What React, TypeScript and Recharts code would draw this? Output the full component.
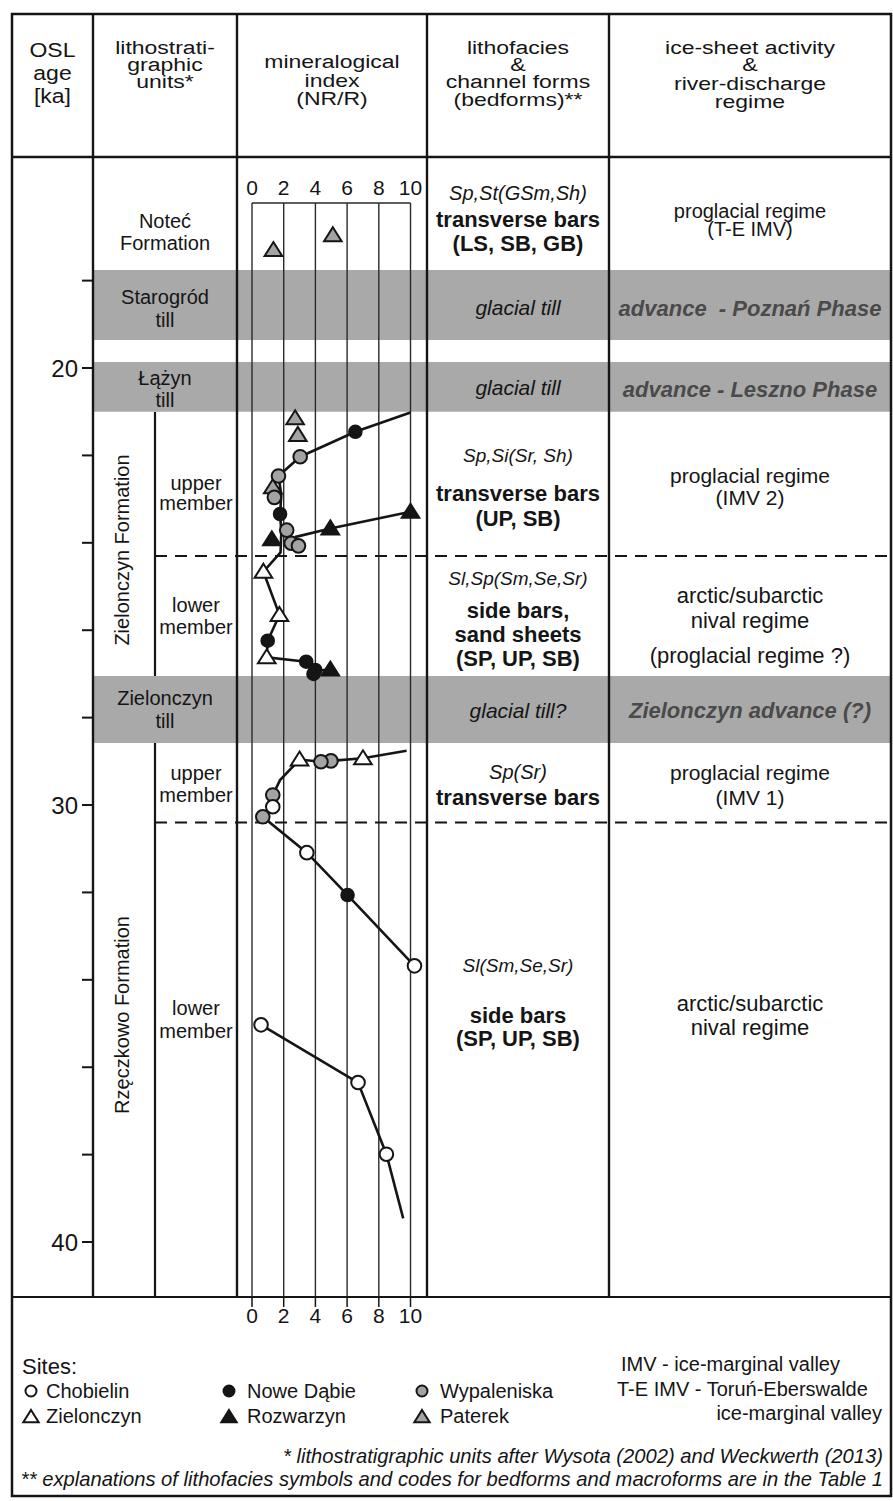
import React from 'react';
import { ScatterChart, Scatter, XAxis, YAxis, ReferenceArea, ReferenceLine } from 'recharts';

type P = { x: number; y: number };

// mineralogical index axis
const mineralTicks = [0, 2, 4, 6, 8, 10];
// OSL age axis (ka)
const ageTicks = [18, 20, 22, 24, 26, 28, 30, 32, 34, 36, 38, 40];
const ageLabels = [20, 30, 40];

// sites (x = mineralogical index NR/R, y = OSL age ka)
const chobielin: P[] = [
  { x: 1.31, y: 30.04 }, { x: 3.46, y: 31.09 }, { x: 10.25, y: 33.68 },
  { x: 0.57, y: 35.03 }, { x: 6.69, y: 36.35 }, { x: 8.48, y: 37.99 },
];
const noweDabie: P[] = [
  { x: 6.52, y: 21.46 }, { x: 1.77, y: 23.34 }, { x: 0.99, y: 26.24 },
  { x: 3.42, y: 26.72 }, { x: 3.99, y: 26.91 }, { x: 3.88, y: 27.0 }, { x: 6.03, y: 32.06 },
];
const wypaleniska: P[] = [
  { x: 3.04, y: 22.03 }, { x: 1.67, y: 22.47 }, { x: 1.41, y: 22.96 }, { x: 2.19, y: 23.71 },
  { x: 2.47, y: 24.01 }, { x: 2.93, y: 24.07 }, { x: 4.98, y: 28.99 }, { x: 4.35, y: 29.01 },
  { x: 1.31, y: 29.77 }, { x: 0.68, y: 30.27 },
];
const zielonczyn: P[] = [
  { x: 0.72, y: 24.66 }, { x: 1.73, y: 25.65 }, { x: 0.93, y: 26.62 },
  { x: 7.0, y: 28.93 }, { x: 3.0, y: 28.96 },
];
const rozwarzyn: P[] = [
  { x: 10.0, y: 23.29 }, { x: 4.94, y: 23.67 }, { x: 1.25, y: 23.92 }, { x: 4.94, y: 26.9 },
];
const paterek: P[] = [
  { x: 5.1, y: 16.96 }, { x: 1.35, y: 17.3 }, { x: 2.72, y: 21.15 }, { x: 2.89, y: 21.53 }, { x: 1.31, y: 22.73 },
];

// trend lines
const lineZielonczynFm: P[] = [
  { x: 10.0, y: 21.02 }, { x: 6.52, y: 21.46 }, { x: 3.04, y: 22.03 }, { x: 1.67, y: 22.47 },
  { x: 1.85, y: 22.9 }, { x: 1.77, y: 23.34 }, { x: 1.85, y: 23.75 }, { x: 1.8, y: 24.22 },
  { x: 0.72, y: 24.66 }, { x: 1.73, y: 25.65 }, { x: 0.99, y: 26.24 }, { x: 0.93, y: 26.62 },
  { x: 3.42, y: 26.72 }, { x: 3.95, y: 26.93 }, { x: 4.94, y: 26.9 },
];
const lineRozwarzyn: P[] = [
  { x: 10.0, y: 23.29 }, { x: 4.94, y: 23.67 }, { x: 2.7, y: 23.87 },
];
const lineRzeczkowoUpper: P[] = [
  { x: 9.75, y: 28.76 }, { x: 7.0, y: 28.93 }, { x: 4.98, y: 28.99 }, { x: 4.35, y: 29.01 },
  { x: 3.0, y: 28.96 }, { x: 1.77, y: 29.43 }, { x: 1.31, y: 29.77 }, { x: 1.31, y: 30.04 },
  { x: 0.68, y: 30.27 }, { x: 3.46, y: 31.09 }, { x: 6.03, y: 32.06 }, { x: 10.25, y: 33.68 },
];
const lineRzeczkowoLower: P[] = [
  { x: 0.57, y: 35.03 }, { x: 6.69, y: 36.35 }, { x: 8.48, y: 37.99 }, { x: 9.54, y: 39.46 },
];

// tills (ka)
const tillTops = [17.76, 19.86, 27.05];
const tillBottoms = [19.36, 21.0, 28.58];
// member boundaries (ka)
const memberBoundaries = [24.3, 30.4];

const X_DOMAIN: [number, number] = [-10.032, 40.315];
const Y_DOMAIN: [number, number] = [16.224, 41.258];
const FONT = "'Liberation Sans', Arial, Helvetica, sans-serif";
const INK = '#151515';
const BAND = '#a9a9a9';
const GREYFILL = '#a3a3a3';

const circleShape = (fill: string, r = 6.8) => (props: any) => (
  <circle cx={props.cx} cy={props.cy} r={r} fill={fill} stroke={INK} strokeWidth={2} />
);
const triPoints = (cx: number, cy: number, s: number) =>
  `${cx},${cy - s} ${cx + s * 1.1},${cy + s * 0.75} ${cx - s * 1.1},${cy + s * 0.75}`;
const triShape = (fill: string, s = 8) => (props: any) => (
  <polygon points={triPoints(props.cx, props.cy, s)} fill={fill} stroke={INK} strokeWidth={2} strokeLinejoin="miter" />
);
const noShape = () => <g />;

type TP = {
  x: number; y: number; children: React.ReactNode; size?: number; bold?: boolean; italic?: boolean;
  anchor?: 'start' | 'middle' | 'end'; fill?: string; rotate?: number; sy?: number;
};
const T = ({ x, y, children, size = 21, bold, italic, anchor = 'middle', fill = INK, rotate, sy }: TP) => {
  let transform: string | undefined;
  if (rotate) transform = `rotate(${rotate} ${x} ${y})`;
  else if (sy) transform = `translate(${x} ${y}) scale(1 ${sy}) translate(${-x} ${-y})`;
  return (
    <text
      x={x}
      y={y}
      fontSize={size}
      fontFamily={FONT}
      fontWeight={bold ? 'bold' : 'normal'}
      fontStyle={italic ? 'italic' : 'normal'}
      textAnchor={anchor}
      dominantBaseline="central"
      fill={fill}
      transform={transform}
      style={{ whiteSpace: 'pre' }}
    >
      {children}
    </text>
  );
};

const LegendCircle = ({ cx, cy, fill }: { cx: number; cy: number; fill: string }) => (
  <circle cx={cx} cy={cy} r={5.5} fill={fill} stroke={INK} strokeWidth={2} />
);
const LegendTri = ({ cx, cy, fill }: { cx: number; cy: number; fill: string }) => (
  <polygon points={triPoints(cx, cy, 7)} fill={fill} stroke={INK} strokeWidth={2} />
);

const HS = 23; // header font size
const HY = 0.82; // header vertical squeeze

export default function App() {
  const L = 12, R = 891, TOP = 14, HEAD = 157, TB = 1297, BOT = 1496;
  const cols = [93, 237, 427, 609];
  return (
    <div style={{ position: 'absolute', left: 0, top: 0, width: 893, height: 1501, background: '#fff' }}>
      <div style={{ position: 'absolute', left: 0, top: 0 }}>
        <ScatterChart width={893} height={1501} margin={{ top: 173, right: 2, bottom: 164, left: 33 }}>
          <XAxis
            xAxisId="b"
            type="number"
            dataKey="x"
            domain={X_DOMAIN}
            allowDataOverflow
            ticks={mineralTicks}
            interval={0}
            height={40}
            axisLine={false}
            tickSize={10}
            tickMargin={1}
            tickLine={{ stroke: INK, strokeWidth: 1.5 }}
            tick={{ fontSize: 21, fill: INK, fontFamily: FONT }}
          />
          <XAxis
            xAxisId="t"
            orientation="top"
            type="number"
            dataKey="x"
            domain={X_DOMAIN}
            allowDataOverflow
            ticks={mineralTicks}
            interval={0}
            height={30}
            axisLine={false}
            tickLine={false}
            tickSize={6}
            tickMargin={2}
            tick={{ fontSize: 21, fill: INK, fontFamily: FONT }}
          />
          <YAxis
            type="number"
            dataKey="y"
            domain={Y_DOMAIN}
            allowDataOverflow
            reversed
            ticks={ageTicks}
            interval={0}
            width={60}
            axisLine={false}
            tickSize={11}
            tickMargin={4}
            tickLine={{ stroke: INK, strokeWidth: 2 }}
            tickFormatter={(v: number) => (ageLabels.includes(v) ? String(v) : '')}
            tick={{ fontSize: 24, fill: INK, fontFamily: FONT }}
          />
          {tillTops.map((t, i) => (
            <ReferenceArea key={'till' + i} xAxisId="b" y1={t} y2={tillBottoms[i]} fill={BAND} fillOpacity={1} stroke="none" ifOverflow="visible" />
          ))}
          {mineralTicks.map((v) => (
            <ReferenceLine key={'g' + v} xAxisId="b" x={v} stroke="#2a2a2a" strokeWidth={1.4} ifOverflow="visible" />
          ))}
          <ReferenceLine
            xAxisId="b"
            segment={[{ x: 0, y: Y_DOMAIN[0] }, { x: 10, y: Y_DOMAIN[0] }]}
            stroke="#2a2a2a"
            strokeWidth={1.6}
            ifOverflow="visible"
          />
          {memberBoundaries.map((b) => (
            <ReferenceLine
              key={'m' + b}
              xAxisId="b"
              segment={[{ x: -6.12, y: b }, { x: X_DOMAIN[1], y: b }]}
              stroke={INK}
              strokeWidth={2}
              strokeDasharray="12 8"
              ifOverflow="visible"
            />
          ))}
          {[lineZielonczynFm, lineRozwarzyn, lineRzeczkowoUpper, lineRzeczkowoLower].map((d, i) => (
            <Scatter key={'l' + i} xAxisId="b" data={d} line={{ stroke: INK, strokeWidth: 2.6 }} shape={noShape} isAnimationActive={false} legendType="none" />
          ))}
          <Scatter xAxisId="b" data={paterek} shape={triShape(GREYFILL)} isAnimationActive={false} />
          <Scatter xAxisId="b" data={rozwarzyn} shape={triShape(INK)} isAnimationActive={false} />
          <Scatter xAxisId="b" data={zielonczyn} shape={triShape('#fff')} isAnimationActive={false} />
          <Scatter xAxisId="b" data={wypaleniska} shape={circleShape(GREYFILL)} isAnimationActive={false} />
          <Scatter xAxisId="b" data={noweDabie} shape={circleShape(INK, 6.3)} isAnimationActive={false} />
          <Scatter xAxisId="b" data={chobielin} shape={circleShape('#fff')} isAnimationActive={false} />
        </ScatterChart>
      </div>
      <svg width={893} height={1501} style={{ position: 'absolute', left: 0, top: 0, pointerEvents: 'none' }}>
        {/* frame */}
        <rect x={L} y={TOP} width={R - L} height={BOT - TOP} fill="none" stroke={INK} strokeWidth={2.5} />
        <line x1={L} y1={HEAD} x2={R} y2={HEAD} stroke={INK} strokeWidth={2.5} />
        <line x1={L} y1={TB} x2={R} y2={TB} stroke={INK} strokeWidth={2.2} />
        {cols.map((c) => (
          <line key={c} x1={c} y1={TOP} x2={c} y2={TB} stroke={INK} strokeWidth={2.4} />
        ))}
        <line x1={155} y1={412} x2={155} y2={676} stroke={INK} strokeWidth={2.2} />
        <line x1={155} y1={743} x2={155} y2={TB} stroke={INK} strokeWidth={2.2} />

        {/* header */}
        <T x={52.5} y={50} size={HS} sy={0.9}>OSL</T>
        <T x={52.5} y={73} size={HS} sy={0.9}>age</T>
        <T x={52.5} y={96} size={HS} sy={0.9}>[ka]</T>
        <T x={165} y={47} size={HS} sy={HY}>lithostrati-</T>
        <T x={165} y={64} size={HS} sy={HY}>graphic</T>
        <T x={165} y={81} size={HS} sy={HY}>units*</T>
        <T x={332} y={61} size={HS} sy={HY}>mineralogical</T>
        <T x={332} y={80} size={HS} sy={HY}>index</T>
        <T x={332} y={98} size={HS} sy={HY}>(NR/R)</T>
        <T x={518} y={47} size={HS} sy={HY}>lithofacies</T>
        <T x={518} y={64} size={HS} sy={HY}>&amp;</T>
        <T x={518} y={81} size={HS} sy={HY}>channel forms</T>
        <T x={518} y={99} size={HS} sy={HY}>(bedforms)**</T>
        <T x={750} y={47} size={HS} sy={HY}>ice-sheet activity</T>
        <T x={750} y={64} size={HS} sy={HY}>&amp;</T>
        <T x={750} y={83} size={HS} sy={HY}>river-discharge</T>
        <T x={750} y={101} size={HS} sy={HY}>regime</T>

        {/* lithostratigraphic units */}
        <T x={165} y={221} size={20}>Noteć</T>
        <T x={165} y={243} size={20}>Formation</T>
        <T x={165} y={297} size={20}>Starogród</T>
        <T x={165} y={320} size={20}>till</T>
        <T x={165} y={378} size={20}>Łążyn</T>
        <T x={165} y={400} size={20}>till</T>
        <T x={122} y={550} size={20} rotate={-90}>Zielonczyn Formation</T>
        <T x={196} y={483} size={20}>upper</T>
        <T x={196} y={503} size={20}>member</T>
        <T x={196} y={605} size={20}>lower</T>
        <T x={196} y={627} size={20}>member</T>
        <T x={165} y={698} size={20}>Zielonczyn</T>
        <T x={165} y={721} size={20}>till</T>
        <T x={196} y={773} size={20}>upper</T>
        <T x={196} y={795} size={20}>member</T>
        <T x={122} y={1015} size={20} rotate={-90}>Rzęczkowo Formation</T>
        <T x={196} y={1008} size={20}>lower</T>
        <T x={196} y={1031} size={20}>member</T>

        {/* lithofacies */}
        <T x={518} y={193} size={20} italic>Sp,St(GSm,Sh)</T>
        <T x={518} y={219} size={22} bold>transverse bars</T>
        <T x={518} y={243} size={22} bold>(LS, SB, GB)</T>
        <T x={518} y={307} size={21} italic>glacial till</T>
        <T x={518} y={387} size={21} italic>glacial till</T>
        <T x={518} y={455} size={19} italic>Sp,Si(Sr, Sh)</T>
        <T x={518} y={493} size={22} bold>transverse bars</T>
        <T x={518} y={518} size={22} bold>(UP, SB)</T>
        <T x={518} y={578} size={19} italic>Sl,Sp(Sm,Se,Sr)</T>
        <T x={518} y={610} size={22} bold>side bars,</T>
        <T x={518} y={634} size={22} bold>sand sheets</T>
        <T x={518} y={658} size={22} bold>(SP, UP, SB)</T>
        <T x={518} y={710} size={21} italic>glacial till?</T>
        <T x={518} y={772} size={20} italic>Sp(Sr)</T>
        <T x={518} y={797} size={22} bold>transverse bars</T>
        <T x={518} y={965} size={19} italic>Sl(Sm,Se,Sr)</T>
        <T x={518} y={1015} size={22} bold>side bars</T>
        <T x={518} y={1038} size={22} bold>(SP, UP, SB)</T>

        {/* ice-sheet activity */}
        <T x={750} y={211} size={20}>proglacial regime</T>
        <T x={750} y={229} size={20}>(T-E IMV)</T>
        <T x={750} y={308} size={22} bold italic fill="#4a4a4a">{'advance  - Poznań Phase'}</T>
        <T x={750} y={389} size={22} bold italic fill="#4a4a4a">advance - Leszno Phase</T>
        <T x={750} y={475} size={21}>proglacial regime</T>
        <T x={750} y={497} size={21}>(IMV 2)</T>
        <T x={750} y={595} size={22}>arctic/subarctic</T>
        <T x={750} y={620} size={22}>nival regime</T>
        <T x={750} y={655} size={22}>(proglacial regime ?)</T>
        <T x={750} y={710} size={22} bold italic fill="#4a4a4a">Zielonczyn advance (?)</T>
        <T x={750} y={772} size={21}>proglacial regime</T>
        <T x={750} y={797} size={21}>(IMV 1)</T>
        <T x={750} y={1003} size={22}>arctic/subarctic</T>
        <T x={750} y={1027} size={22}>nival regime</T>

        {/* legend */}
        <T x={22} y={1366} anchor="start" size={22}>Sites:</T>
        <LegendCircle cx={31} cy={1391} fill="#fff" />
        <T x={46} y={1391} anchor="start" size={20}>Chobielin</T>
        <LegendTri cx={31} cy={1417} fill="#fff" />
        <T x={46} y={1416} anchor="start" size={20}>Zielonczyn</T>
        <LegendCircle cx={229} cy={1391} fill={INK} />
        <T x={247} y={1391} anchor="start" size={20}>Nowe Dąbie</T>
        <LegendTri cx={229} cy={1417} fill={INK} />
        <T x={247} y={1416} anchor="start" size={20}>Rozwarzyn</T>
        <LegendCircle cx={422} cy={1391} fill={GREYFILL} />
        <T x={440} y={1391} anchor="start" size={20}>Wypaleniska</T>
        <LegendTri cx={422} cy={1417} fill={GREYFILL} />
        <T x={440} y={1416} anchor="start" size={20}>Paterek</T>

        <T x={621} y={1364} anchor="start" size={20}>IMV - ice-marginal valley</T>
        <T x={617} y={1389} anchor="start" size={20}>T-E IMV - Toruń-Eberswalde</T>
        <T x={882} y={1413} anchor="end" size={20}>ice-marginal valley</T>

        <T x={883} y={1456} anchor="end" size={20.2} italic>* lithostratigraphic units after Wysota (2002) and Weckwerth (2013)</T>
        <T x={883} y={1479} anchor="end" size={20.2} italic>** explanations of lithofacies symbols and codes for bedforms and macroforms are in the Table 1</T>
      </svg>
    </div>
  );
}
